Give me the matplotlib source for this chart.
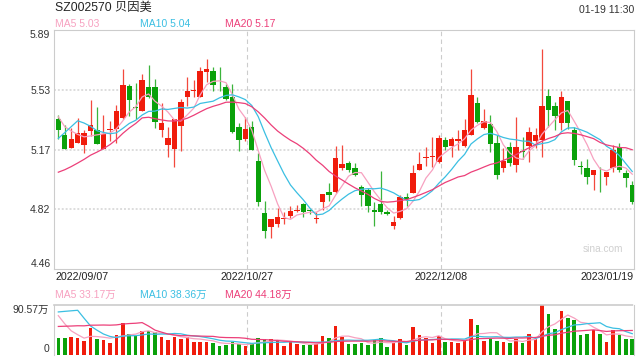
import numpy as np
import pandas as pd
import matplotlib
matplotlib.use("Agg")
import matplotlib.pyplot as plt

plt.rcParams['font.family'] = ['Liberation Sans', 'Noto Sans CJK SC', 'DejaVu Sans']

# ---------------- data ----------------
title = 'SZ002570 贝因美'
stamp = '01-19 11:30'
date_labels = ['2022/09/07', '2022/10/27', '2022/12/08', '2023/01/19']
price_ticks = [5.89, 5.53, 5.17, 4.82, 4.46]
price_tick_labels = ['5.89', '5.53', '5.17', '4.82', '4.46']
vol_ticks = [0, 90.57]
vol_tick_labels = ['0', '90.57万']
ma_names = ['MA5', 'MA10', 'MA20']
ma_windows = [5, 10, 20]
ma_price_text = ['5.03', '5.04', '5.17']
ma_vol_text = ['33.17万', '38.36万', '44.18万']

opens = [5.357, 5.258, 5.182, 5.214, 5.202, 5.282, 5.289, 5.174, 5.290, 5.294,
         5.361, 5.552, 5.427, 5.403, 5.544, 5.544, 5.289, 5.198, 5.174, 5.313,
         5.485, 5.524, 5.489, 5.636, 5.644, 5.542, 5.544, 5.485, 5.309, 5.238,
         5.309, 5.106, 4.795, 4.712, 4.728, 4.758, 4.776, 4.807, 4.847, 4.815,
         4.758, 4.859, 4.918, 4.918, 5.062, 5.090, 5.062, 4.947, 4.931, 4.815,
         4.847, 4.803, 4.716, 4.764, 4.887, 4.915, 5.050, 5.122, 5.128, 5.098,
         5.230, 5.194, 5.226, 5.194, 5.262, 5.449, 5.301, 5.325, 5.210, 5.066,
         5.190, 5.078, 5.164, 5.194, 5.222, 5.230, 5.493, 5.433, 5.333, 5.461,
         5.289, 5.076, 5.066, 5.023, 5.048, 5.011, 5.066, 5.190, 5.031, 4.959]
highs = [5.377, 5.317, 5.303, 5.359, 5.290, 5.469, 5.429, 5.381, 5.341, 5.441,
         5.652, 5.564, 5.572, 5.624, 5.676, 5.592, 5.449, 5.309, 5.353, 5.473,
         5.604, 5.588, 5.668, 5.716, 5.668, 5.664, 5.564, 5.564, 5.329, 5.369,
         5.341, 5.150, 4.867, 4.760, 4.823, 4.799, 4.839, 4.843, 4.855, 4.819,
         4.799, 4.910, 4.971, 5.194, 5.202, 5.102, 5.094, 4.963, 4.943, 4.863,
         5.046, 4.815, 4.776, 4.903, 4.911, 5.078, 5.158, 5.190, 5.250, 5.262,
         5.246, 5.246, 5.290, 5.353, 5.652, 5.485, 5.413, 5.377, 5.262, 5.182,
         5.218, 5.369, 5.246, 5.305, 5.301, 5.776, 5.532, 5.457, 5.525, 5.461,
         5.309, 5.102, 5.114, 5.054, 5.070, 5.042, 5.202, 5.210, 5.054, 4.983]
lows = [5.238, 5.174, 5.182, 5.214, 5.154, 5.254, 5.206, 5.174, 5.222, 5.214,
        5.353, 5.373, 5.353, 5.401, 5.483, 5.303, 5.250, 5.130, 5.070, 5.162,
        5.433, 5.485, 5.489, 5.576, 5.523, 5.523, 5.469, 5.274, 5.162, 5.226,
        5.170, 4.839, 4.644, 4.648, 4.708, 4.728, 4.764, 4.799, 4.768, 4.788,
        4.732, 4.815, 4.867, 4.915, 5.050, 5.042, 5.015, 4.835, 4.803, 4.716,
        4.788, 4.784, 4.696, 4.756, 4.835, 4.911, 5.050, 5.074, 5.070, 5.094,
        5.170, 5.126, 5.170, 5.190, 5.258, 5.329, 5.293, 5.158, 4.999, 5.042,
        5.074, 5.038, 5.114, 5.098, 5.182, 5.130, 5.309, 5.289, 5.289, 5.293,
        5.082, 5.027, 4.967, 4.931, 4.919, 4.959, 5.038, 5.038, 4.951, 4.851]
closes = [5.289, 5.174, 5.234, 5.274, 5.274, 5.317, 5.206, 5.266, 5.294, 5.401,
          5.556, 5.469, 5.423, 5.588, 5.489, 5.337, 5.329, 5.242, 5.353, 5.457,
          5.521, 5.528, 5.640, 5.656, 5.556, 5.538, 5.473, 5.278, 5.230, 5.294,
          5.170, 4.863, 4.684, 4.760, 4.768, 4.762, 4.807, 4.815, 4.803, 4.807,
          4.762, 4.910, 4.903, 5.122, 5.086, 5.050, 5.019, 4.899, 4.839, 4.799,
          4.803, 4.788, 4.740, 4.891, 4.875, 5.031, 5.086, 5.130, 5.132, 5.242,
          5.190, 5.234, 5.234, 5.290, 5.497, 5.337, 5.341, 5.206, 5.023, 5.102,
          5.094, 5.190, 5.160, 5.278, 5.262, 5.433, 5.409, 5.373, 5.485, 5.333,
          5.110, 5.072, 5.011, 5.054, 5.044, 5.042, 5.173, 5.054, 5.003, 4.858]
volumes = [30.6, 30.6, 31.8, 30.0, 25.1, 47.1, 28.2, 26.3, 21.4, 34.9,
           57.5, 37.3, 33.7, 42.8, 42.8, 41.0, 32.4, 26.9, 31.8, 28.8,
           32.4, 23.3, 23.3, 23.3, 21.4, 15.3, 17.1, 23.3, 18.4, 15.9,
           20.2, 30.0, 28.2, 27.5, 25.7, 15.9, 23.9, 19.0, 17.1, 16.5,
           18.4, 33.7, 30.0, 52.0, 31.8, 19.0, 19.0, 20.8, 17.1, 25.7,
           30.0, 13.5, 20.8, 28.2, 17.1, 50.2, 35.5, 30.0, 20.8, 33.7,
           22.6, 22.6, 20.8, 25.7, 64.9, 53.9, 25.1, 28.2, 24.5, 23.3,
           20.8, 28.8, 20.8, 37.3, 28.2, 90.57, 74.1, 46.5, 79.6, 66.7,
           63.0, 35.5, 37.9, 44.1, 37.3, 22.6, 44.7, 35.5, 28.2, 28.2]
# sessions before the visible window (only feed the moving averages)
prior_close = [4.88, 4.86, 4.85, 4.83, 4.82, 4.84, 4.85, 4.82, 4.80, 4.81,
               4.83, 4.88, 4.922, 5.41, 5.513, 5.47, 5.364, 5.374, 5.348]
prior_vol = [22, 25, 20, 28, 24, 26, 22, 27, 25, 26,
             20, 22, 20.4, 170, 186.6, 105, 95, 65, 56.4]

# ---------------- style ----------------
W, H = 640, 360
RED = '#f01c0c'
GREEN = '#0aa10a'
MA_COLORS = ['#f7a1c0', '#3bbfe2', '#ec3f79']
GRID = '#dddddd'
BORDER = '#cccccc'
TXT = '#333333'

def fx(px):
    return px / W

def fy(py):
    return 1 - py / H

fig = plt.figure(figsize=(W / 100, H / 100), dpi=100)
fig.patch.set_facecolor('white')

L, R = 54, 634
PT, PB = 29.5, 269
VT, VB = 304.5, 354.5
ax = fig.add_axes([fx(L), fy(PB), (R - L) / W, (PB - PT) / H])
axv = fig.add_axes([fx(L), fy(VB), (R - L) / W, (VB - VT) / H])

o = np.array(opens); h = np.array(highs); lo = np.array(lows); c = np.array(closes)
v = np.array(volumes)
n = len(c)
x = np.arange(n)
up = c >= o
cols = np.where(up, RED, GREEN)
xlim = (-0.67, n - 0.73)

# ---- price panel ----
ax.set_xlim(*xlim)
ax.set_ylim(4.46, 5.89)
for yv in price_ticks[1:-1]:
    ax.axhline(yv, color=GRID, lw=1.4, ls=(0, (1, 1)), zorder=0)
for fr in (1 / 3, 2 / 3):
    ax.plot([fr, fr], [0, 1], transform=ax.transAxes, color=BORDER, lw=0.8,
            ls=(0, (4, 3)), zorder=0)
ax.vlines(x, lo, h, colors=cols, lw=0.9, alpha=0.8, zorder=2)
body = np.maximum(np.abs(c - o), 0.004)
ax.bar(x, body, bottom=np.minimum(o, c), width=0.84, color=cols, zorder=3,
       linewidth=0)

all_close = pd.Series(np.r_[prior_close, closes])
for w, col in zip(ma_windows, MA_COLORS):
    ma = all_close.rolling(w).mean().values[len(prior_close):]
    ax.plot(x, ma, color=col, lw=0.9, zorder=4)

ax.set_xticks([])
ax.set_yticks(price_ticks)
ax.set_yticklabels(price_tick_labels)
ax.tick_params(axis='y', length=0, pad=2.6, labelsize=7.5, colors=TXT)
lbls = ax.get_yticklabels()
lbls[0].set_verticalalignment('top')
lbls[-1].set_verticalalignment('bottom')
for s in ax.spines.values():
    s.set_color(BORDER)
    s.set_linewidth(0.8)

ax.text(fx(583), fy(249), 'sina.com', transform=fig.transFigure, fontsize=7.3,
        color='#d0d0d0', va='center', ha='left')

# ---- volume panel ----
axv.set_xlim(*xlim)
axv.set_ylim(0, vol_ticks[1])
for fr in (1 / 3, 2 / 3):
    axv.plot([fr, fr], [0, 1], transform=axv.transAxes, color=BORDER, lw=0.8,
             ls=(0, (4, 3)), zorder=0)
axv.bar(x, v, width=0.55, color=cols, linewidth=0, zorder=2)
all_vol = pd.Series(np.r_[prior_vol, volumes])
for w, col in zip(ma_windows, MA_COLORS):
    mv = all_vol.rolling(w).mean().values[len(prior_vol):]
    axv.plot(x, mv, color=col, lw=0.9, zorder=3)
axv.set_xticks([])
axv.set_yticks(vol_ticks)
axv.set_yticklabels(vol_tick_labels)
axv.tick_params(axis='y', length=0, pad=3.5, labelsize=7.5, colors=TXT)
vl = axv.get_yticklabels()
vl[0].set_verticalalignment('bottom')
vl[-1].set_verticalalignment('top')
axv.spines['bottom'].set_visible(False)
for k in ('left', 'right'):
    axv.spines[k].set_color(BORDER)
    axv.spines[k].set_linewidth(0.8)
axv.spines['top'].set_color(BORDER)
axv.spines['top'].set_linewidth(1.2)
axv.spines['top'].set_linestyle((0, (1, 1)))

# ---- texts ----
fig.text(fx(55), fy(8), title, fontsize=8.8, color='#222222', va='center', ha='left')
fig.text(fx(634), fy(10), stamp, fontsize=7.6, color=TXT, va='center', ha='right')
for i, (name, val, col) in enumerate(zip(ma_names, ma_price_text, MA_COLORS)):
    fig.text(fx(55 + 85 * i), fy(24), f'{name} {val}', fontsize=7.5, color=col,
             va='center', ha='left')
for i, (name, val, col) in enumerate(zip(ma_names, ma_vol_text, MA_COLORS)):
    fig.text(fx(55 + 85 * i), fy(294.5), f'{name} {val}', fontsize=7.5, color=col,
             va='center', ha='left')
date_x = [L + 1, L + (R - L) / 3, L + 2 * (R - L) / 3, R]
date_ha = ['left', 'center', 'center', 'right']
for lab, px, ha in zip(date_labels, date_x, date_ha):
    fig.text(fx(px), fy(277.5), lab, fontsize=7.7, color='#222222', va='center', ha=ha)

fig.savefig('out.png', dpi=100, facecolor='white')
